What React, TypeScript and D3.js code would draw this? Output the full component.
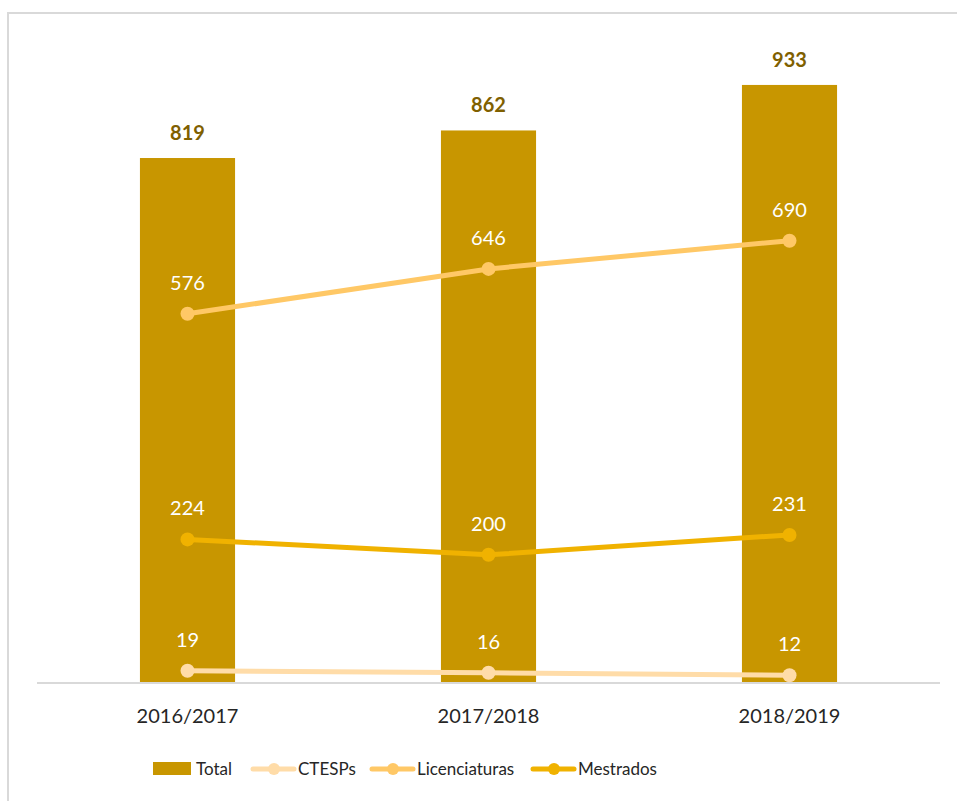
import React from "react";
import * as d3 from "d3";

const categories = ["2016/2017", "2017/2018", "2018/2019"];
const totalValues = [819, 862, 933];
const ctespValues = [19, 16, 12];
const licValues = [576, 646, 690];
const mestValues = [224, 200, 231];
const seriesNames = ["Total", "CTESPs", "Licenciaturas", "Mestrados"];

const W = 957;
const H = 801;
const FONT = "Lato, 'Open Sans', sans-serif";
const BAR = "#C89600";
const BAR_LABEL = "#7F6000";
const LINE_COLORS = ["#FFDCA8", "#FFC866", "#F0B200"];

export default function App() {
  const x = d3.scaleBand<string>().domain(categories).range([37, 940]).paddingInner(0.684).paddingOuter(0.342);
  const y = d3.scaleLinear().domain([0, 1000]).range([683, 42]);
  const cx = (c: string) => (x(c) as number) + x.bandwidth() / 2;
  const lines = [ctespValues, licValues, mestValues];
  const lineGen = d3
    .line<number>()
    .x((_, i) => cx(categories[i]))
    .y((d) => y(d));

  const legendItems = [
    { name: seriesNames[0], x: 153, type: "bar", color: BAR },
    { name: seriesNames[1], x: 253, type: "line", color: LINE_COLORS[0] },
    { name: seriesNames[2], x: 372, type: "line", color: LINE_COLORS[1] },
    { name: seriesNames[3], x: 533, type: "line", color: LINE_COLORS[2] },
  ];

  return (
    <svg width={W} height={H} style={{ position: "absolute", left: 0, top: 0, background: "#fff" }} fontFamily={FONT}>
      <rect x={8} y={13} width={W + 10} height={H + 10} fill="#fff" stroke="#D9D9D9" strokeWidth={2} />
      {categories.map((c, i) => (
        <g key={c}>
          <rect x={x(c)} y={y(totalValues[i])} width={x.bandwidth()} height={y(0) - y(totalValues[i])} fill={BAR} />
          <text x={cx(c)} y={y(totalValues[i]) - 18} textAnchor="middle" fontSize={20} fontWeight="bold" fill={BAR_LABEL}>
            {totalValues[i]}
          </text>
          <text x={cx(c)} y={723} textAnchor="middle" fontSize={20} fill="#262626">
            {c}
          </text>
        </g>
      ))}
      <line x1={37} x2={940} y1={y(0)} y2={y(0)} stroke="#D9D9D9" strokeWidth={2} />
      {lines.map((vals, k) => (
        <g key={k}>
          <path d={lineGen(vals) || ""} fill="none" stroke={LINE_COLORS[k]} strokeWidth={5} strokeLinecap="round" />
          {vals.map((v, i) => (
            <g key={i}>
              <circle cx={cx(categories[i])} cy={y(v)} r={7} fill={LINE_COLORS[k]} />
              <text x={cx(categories[i])} y={y(v) - 24} textAnchor="middle" fontSize={20} fill="#FFFFFF">
                {v}
              </text>
            </g>
          ))}
        </g>
      ))}
      {legendItems.map((it) => (
        <g key={it.name}>
          {it.type === "bar" ? (
            <rect x={it.x} y={762} width={38} height={13} fill={it.color} />
          ) : (
            <g>
              <line x1={it.x} x2={it.x + 41} y1={769} y2={769} stroke={it.color} strokeWidth={5} strokeLinecap="round" />
              <circle cx={it.x + 21} cy={769} r={6} fill={it.color} />
            </g>
          )}
          <text x={it.x + (it.type === "bar" ? 43 : 45)} y={775} fontSize={17} fill="#262626">
            {it.name}
          </text>
        </g>
      ))}
    </svg>
  );
}
